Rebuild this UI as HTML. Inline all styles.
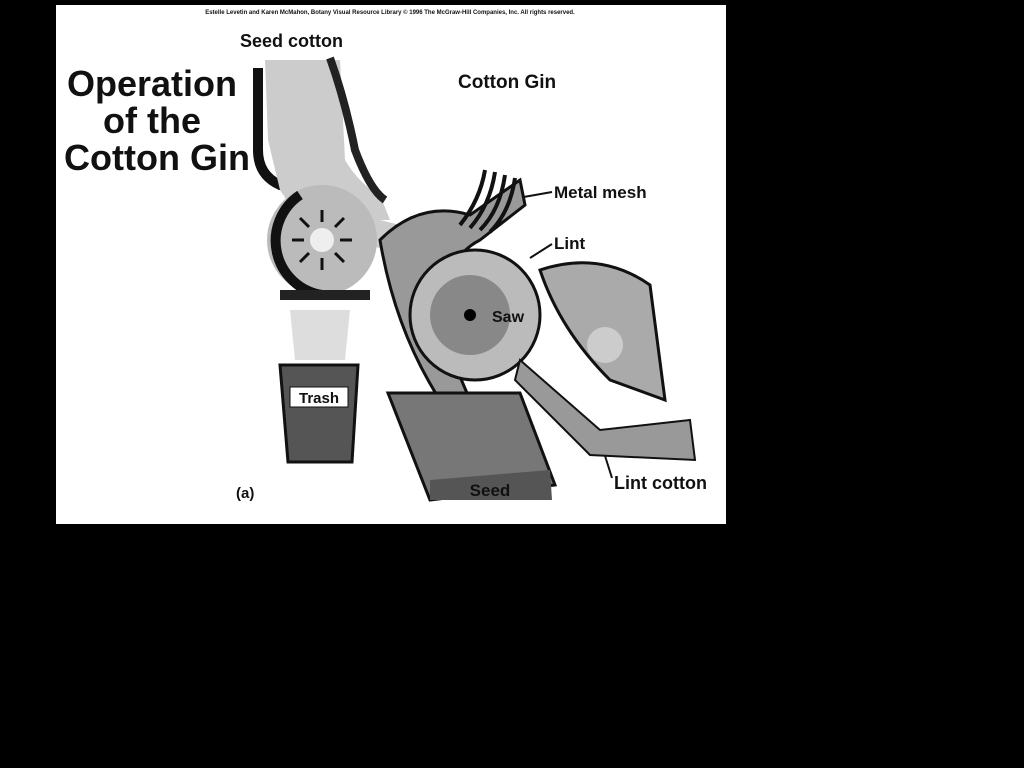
<!DOCTYPE html>
<html><head><style>
html,body{margin:0;padding:0;background:#000;width:1024px;height:768px;overflow:hidden}
svg{position:absolute;left:0;top:0}
text{font-family:"Liberation Sans",sans-serif;font-weight:bold;fill:#111}
</style></head><body>
<svg width="1024" height="768" viewBox="0 0 1024 768">
<rect x="0" y="0" width="1024" height="768" fill="#000"/>
<rect x="56" y="5" width="670" height="519" fill="#fff"/>
<text x="390" y="14" font-size="6" text-anchor="middle" font-weight="normal" fill="#555">Estelle Levetin and Karen McMahon, Botany Visual Resource Library © 1996 The McGraw-Hill Companies, Inc. All rights reserved.</text>
<text x="240" y="47" font-size="18">Seed cotton</text>
<text x="152" y="96" font-size="36" text-anchor="middle">Operation</text>
<text x="152" y="133" font-size="36" text-anchor="middle">of the</text>
<text x="157" y="170" font-size="36" text-anchor="middle">Cotton Gin</text>
<text x="458" y="88" font-size="19">Cotton Gin</text>
<text x="554" y="198" font-size="17">Metal mesh</text>
<text x="554" y="249" font-size="17">Lint</text>
<text x="614" y="489" font-size="18">Lint cotton</text>
<text x="236" y="498" font-size="15">(a)</text>
<line x1="518" y1="198" x2="552" y2="192" stroke="#111" stroke-width="2"/>
<line x1="530" y1="258" x2="552" y2="244" stroke="#111" stroke-width="2"/>
<line x1="600" y1="440" x2="612" y2="478" stroke="#111" stroke-width="2"/>
<!-- chute -->
<path d="M258 68 L258 150 Q258 175 280 185 L300 190" stroke="#111" stroke-width="10" fill="none"/>
<path d="M265 60 L340 60 L345 160 Q360 185 380 195 L390 220 L300 220 L280 190 L268 140 Z" fill="#ccc"/>
<path d="M330 58 Q345 100 355 150 Q370 190 385 200" stroke="#222" stroke-width="8" fill="none"/>
<path d="M360 215 L400 225 L395 250 L360 245Z" fill="#ccc"/>
<circle cx="322" cy="240" r="55" fill="#bbb"/>
<path d="M300 195 A55 55 0 0 0 322 295" stroke="#111" stroke-width="10" fill="none"/>
<circle cx="322" cy="240" r="12" fill="#eee"/>
<g stroke="#111" stroke-width="3">
<line x1="322" y1="210" x2="322" y2="222"/><line x1="322" y1="258" x2="322" y2="270"/>
<line x1="292" y1="240" x2="304" y2="240"/><line x1="340" y1="240" x2="352" y2="240"/>
<line x1="300" y1="218" x2="309" y2="227"/><line x1="335" y1="253" x2="344" y2="262"/>
<line x1="344" y1="218" x2="335" y2="227"/><line x1="309" y1="253" x2="300" y2="262"/>
</g>
<path d="M280 290 L370 290 L370 300 L280 300Z" fill="#222"/>
<path d="M290 310 L350 310 L345 360 L295 360Z" fill="#ddd"/>
<!-- trash -->
<path d="M280 365 L358 365 L352 462 L288 462Z" fill="#555" stroke="#111" stroke-width="3"/>
<rect x="290" y="387" width="58" height="20" fill="#fff" stroke="#111"/>
<text x="319" y="403" font-size="15" text-anchor="middle">Trash</text>
<!-- mesh/saw -->
<path d="M380 240 Q420 200 470 215 L520 180 L525 205 L480 240 Q440 260 440 330 L470 400 L440 400 Q395 330 380 240Z" fill="#999" stroke="#111" stroke-width="3"/>
<g stroke="#111" stroke-width="4" fill="none">
<path d="M460 225 Q480 200 485 170"/><path d="M470 228 Q490 205 495 172"/><path d="M480 230 Q500 210 505 175"/><path d="M490 232 Q510 212 515 178"/>
</g>
<circle cx="475" cy="315" r="65" fill="#bbb" stroke="#111" stroke-width="3"/>
<circle cx="470" cy="315" r="40" fill="#888"/>
<circle cx="470" cy="315" r="6" fill="#000"/>
<text x="492" y="322" font-size="16">Saw</text>
<!-- brush -->
<path d="M540 270 Q600 250 650 285 L665 400 L610 380 Q560 330 540 270Z" fill="#aaa" stroke="#111" stroke-width="3"/>
<circle cx="605" cy="345" r="18" fill="#ccc"/>
<path d="M520 360 L600 430 L690 420 L695 460 L590 455 L515 380Z" fill="#999" stroke="#111" stroke-width="2"/>
<!-- seed tray -->
<path d="M388 393 L520 393 L555 485 L430 500Z" fill="#777" stroke="#111" stroke-width="3"/>
<path d="M430 480 L550 470 L552 500 L430 500Z" fill="#555"/>
<text x="490" y="496" font-size="17" text-anchor="middle">Seed</text>
</svg>
</body></html>
